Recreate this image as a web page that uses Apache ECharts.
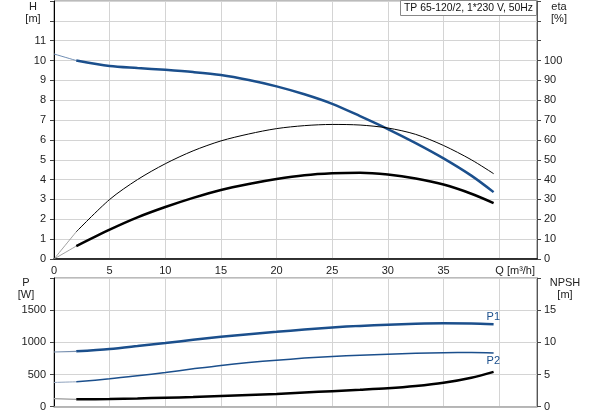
<!DOCTYPE html>
<html>
<head>
<meta charset="utf-8">
<script src="https://cdn.jsdelivr.net/npm/echarts@6/dist/echarts.min.js"></script>
<style>
  html, body { margin: 0; padding: 0; background: #fff; }
  #chart { width: 593px; height: 415px; }
</style>
</head>
<body>
<div id="chart"></div>
<script>
// Pumpenkennlinie TP 65-120/2
var title = 'TP 65-120/2, 1*230 V, 50Hz';

// Förderstrom Q [m³/h] - gemessener Bereich
var qMain = [2, 5, 7.5, 10, 12.5, 15, 17.5, 20, 22.5, 25, 27.5, 30, 32.5, 35, 37.5, 39.5];
// Verlängerung bis Q = 0 (dünn gezeichnet)
var qExt = [0, 2];

// Förderhöhe H [m]
var hMain = [10.0, 9.72, 9.62, 9.53, 9.42, 9.27, 9.02, 8.7, 8.3, 7.82, 7.2, 6.55, 5.84, 5.07, 4.2, 3.37];
var hExt = [10.33, 10.0];
// Wirkungsgrad Pumpe eta [%]
var etaMain = [13.7, 30, 40, 48, 54.5, 59.5, 63, 65.7, 67.2, 67.8, 67.5, 66.0, 62.8, 57.2, 50.0, 43.0];
var etaExt = [0, 13.7];
// Gesamtwirkungsgrad eta [%]
var etaTotMain = [6.5, 14.8, 21, 26.2, 30.8, 34.8, 37.8, 40.3, 42.2, 43.2, 43.5, 42.6, 40.6, 37.5, 32.9, 28.2];
var etaTotExt = [0, 6.5];
// Leistung P1 / P2 [W]
var p1Main = [860, 897, 942, 990, 1040, 1088, 1127, 1163, 1200, 1232, 1256, 1274, 1288, 1295, 1292, 1280];
var p1Ext = [850, 860];
var p2Main = [387, 433, 480, 531, 588, 642, 686, 722, 755, 781, 800, 815, 830, 840, 842, 835];
var p2Ext = [377, 387];
// NPSH [m]
var npshMain = [1.15, 1.19, 1.28, 1.39, 1.5, 1.65, 1.8, 1.97, 2.2, 2.42, 2.62, 2.85, 3.2, 3.71, 4.5, 5.41];
var npshExt = [1.25, 1.15];

var hTicksMax = 11;
var etaTicksMax = 100;
var pTicksMax = 1500;
var npshTicksMax = 15;

var blue = '#1b4f8c';
var gridColor = '#d4d4d4';
var labelColor = '#222';

function pairs(xs, ys) {
    var res = [];
    for (var i = 0; i < xs.length; i++) {
        res.push([xs[i], ys[i]]);
    }
    return res;
}

function line(name, x, y, data, color, width, extra) {
    var s = {
        name: name,
        type: 'line',
        xAxisIndex: x,
        yAxisIndex: y,
        data: data,
        smooth: 0.3,
        symbol: 'none',
        silent: true,
        lineStyle: { color: color, width: width },
        z: 3
    };
    for (var k in (extra || {})) s[k] = extra[k];
    return s;
}

// Beschriftung P1 / P2 am Kurvenende
function endLabel(text, dy) {
    return {
        endLabel: {
            show: true,
            formatter: text,
            color: blue,
            fontSize: 11,
            distance: 0,
            offset: [-7, dy]
        }
    };
}

var myChart = echarts.init(document.getElementById('chart'));

var option = {
    animation: false,
    textStyle: { fontFamily: 'Liberation Sans, Arial, sans-serif' },
    grid: [
        { left: 54, top: 1, right: 56, height: 258, show: true, borderColor: '#777', borderWidth: 1 },
        { left: 54, top: 278, right: 56, height: 128.7, show: true, borderColor: '#777', borderWidth: 1 }
    ],
    xAxis: [{
        gridIndex: 0,
        type: 'value',
        min: 0,
        max: 43.4,
        interval: 5,
        axisLine: { lineStyle: { color: '#000', width: 1.5 } },
        axisTick: { show: false },
        axisLabel: {
            fontSize: 11,
            color: labelColor,
            margin: 6,
            showMaxLabel: true,
            formatter: function(v) {
                if (v === 40) return '{q|Q [m³/h]}';
                if (v % 5 !== 0) return '';
                return v;
            },
            rich: { q: { fontSize: 11, color: labelColor, padding: [0, 0, 0, 32] } }
        },
        splitLine: { lineStyle: { color: gridColor, width: 1 } }
    }, {
        gridIndex: 1,
        type: 'value',
        min: 0,
        max: 43.4,
        interval: 5,
        axisLine: { lineStyle: { color: '#aaa', width: 1.5 } },
        axisTick: { show: false },
        axisLabel: { show: false },
        splitLine: { lineStyle: { color: gridColor, width: 1 } }
    }],
    yAxis: [{
        gridIndex: 0,
        type: 'value',
        position: 'left',
        min: 0,
        max: 13,
        interval: 1,
        axisLine: { show: true, lineStyle: { color: '#000', width: 1 } },
        axisTick: { show: true, length: 4, lineStyle: { color: '#444' } },
        axisLabel: {
            fontSize: 11, color: labelColor, margin: 8,
            formatter: function(v) { return v <= hTicksMax ? v : ''; }
        },
        splitLine: { lineStyle: { color: gridColor, width: 1 } }
    }, {
        gridIndex: 0,
        type: 'value',
        position: 'right',
        min: 0,
        max: 130,
        interval: 10,
        axisLine: { show: true, lineStyle: { color: '#555', width: 1 } },
        axisTick: { show: true, length: 4, lineStyle: { color: '#444' } },
        axisLabel: {
            fontSize: 11, color: labelColor, margin: 7,
            formatter: function(v) { return v <= etaTicksMax ? v : ''; }
        },
        splitLine: { show: false }
    }, {
        gridIndex: 1,
        type: 'value',
        position: 'left',
        min: 0,
        max: 2000,
        interval: 500,
        axisLine: { show: true, lineStyle: { color: '#000', width: 1 } },
        axisTick: { show: true, length: 4, lineStyle: { color: '#444' } },
        axisLabel: {
            fontSize: 11, color: labelColor, margin: 8,
            formatter: function(v) { return v <= pTicksMax ? v : ''; }
        },
        splitLine: { lineStyle: { color: gridColor, width: 1 } }
    }, {
        gridIndex: 1,
        type: 'value',
        position: 'right',
        min: 0,
        max: 20,
        interval: 5,
        axisLine: { show: true, lineStyle: { color: '#555', width: 1 } },
        axisTick: { show: true, length: 4, lineStyle: { color: '#444' } },
        axisLabel: {
            fontSize: 11, color: labelColor, margin: 7,
            formatter: function(v) { return v <= npshTicksMax ? v : ''; }
        },
        splitLine: { show: false }
    }],
    series: [
        // oberes Diagramm
        line('H ext', 0, 0, pairs(qExt, hExt), '#6f8db3', 1),
        line('H', 0, 0, pairs(qMain, hMain), blue, 2.5),
        line('eta ext', 0, 1, pairs(qExt, etaExt), '#888', 0.8),
        line('eta', 0, 1, pairs(qMain, etaMain), '#000', 1),
        line('eta tot ext', 0, 1, pairs(qExt, etaTotExt), '#888', 0.8),
        line('eta tot', 0, 1, pairs(qMain, etaTotMain), '#000', 2.5),
        // unteres Diagramm
        line('P1 ext', 1, 2, pairs(qExt, p1Ext), '#7890b0', 1.2),
        line('P1', 1, 2, pairs(qMain, p1Main), blue, 2.5, endLabel('P1', -7)),
        line('P2 ext', 1, 2, pairs(qExt, p2Ext), '#8fa2bd', 1),
        line('P2', 1, 2, pairs(qMain, p2Main), blue, 1.5, endLabel('P2', 8)),
        line('NPSH ext', 1, 3, pairs(qExt, npshExt), '#999', 1.2),
        line('NPSH', 1, 3, pairs(qMain, npshMain), '#000', 2.5)
    ],
    graphic: [
        { type: 'text', x: 33, y: 1, style: { text: 'H\n[m]', align: 'center', verticalAlign: 'top', lineHeight: 12, font: '11px Liberation Sans', fill: labelColor } },
        { type: 'text', x: 559, y: 1, style: { text: 'eta\n[%]', align: 'center', verticalAlign: 'top', lineHeight: 12, font: '11px Liberation Sans', fill: labelColor } },
        { type: 'text', x: 26, y: 277, style: { text: 'P\n[W]', align: 'center', verticalAlign: 'top', lineHeight: 12, font: '11px Liberation Sans', fill: labelColor } },
        { type: 'text', x: 565, y: 277, style: { text: 'NPSH\n[m]', align: 'center', verticalAlign: 'top', lineHeight: 12, font: '11px Liberation Sans', fill: labelColor } },
        { type: 'rect', x: 400.5, y: 0.5, shape: { width: 136, height: 15 }, style: { fill: '#fff', stroke: '#888', lineWidth: 1 }, z: 10 },
        { type: 'text', x: 468.5, y: 8, style: { text: title, align: 'center', verticalAlign: 'middle', font: '10.4px Liberation Sans', fill: '#111' }, z: 11 }
    ]
};
myChart.setOption(option);
window.addEventListener('resize', function() {
    myChart.resize();
});
</script>
</body>
</html>
